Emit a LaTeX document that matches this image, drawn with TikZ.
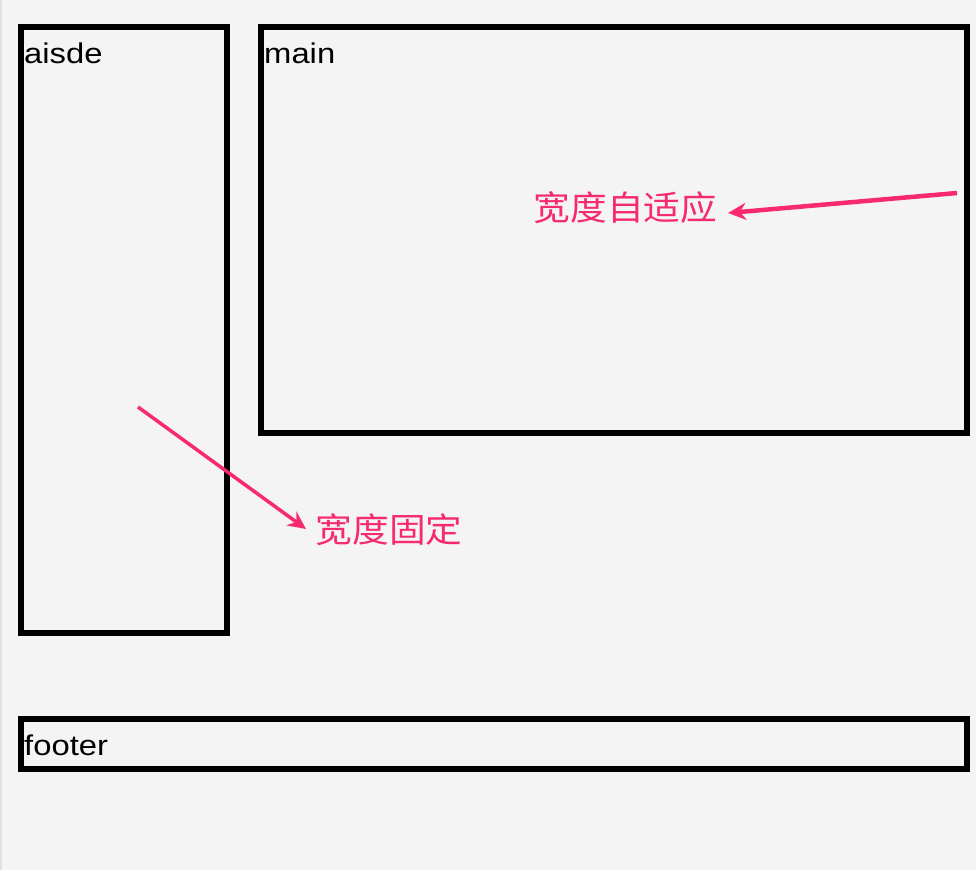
\documentclass[tikz,border=0pt]{standalone}
\usepackage{fontspec}
\setmainfont{Liberation Sans}
\newfontfamily\cjk{Noto Sans CJK SC}
\usetikzlibrary{arrows.meta}
\definecolor{bgc}{HTML}{F4F4F4}
\definecolor{edgec}{HTML}{E0E0E0}
\definecolor{pinkc}{RGB}{246,42,108}
\tikzset{
  box/.style={draw=black, line width=6pt, inner sep=0pt, outer sep=0pt, anchor=north west},
  lbl/.style={inner sep=0pt, anchor=base west, font=\fontsize{28.5}{30}\selectfont},
  note/.style={inner sep=0pt, text=pinkc, font=\cjk\fontsize{34}{36}\selectfont},
  pointer/.style={draw=pinkc, line width=4.5pt, -{Stealth[length=18pt,width=17pt,inset=6pt]}}
}
\newcommand{\wide}[1]{\scalebox{1.15}[1]{#1}}
\newcommand{\cwide}[1]{\scalebox{1.08}[1]{#1}}
\begin{document}
\begin{tikzpicture}[x=1pt,y=-1pt]
  \fill[bgc] (0,0) rectangle (976,870);
  \useasboundingbox (0,0) rectangle (976,870);
  \fill[edgec] (0,0) rectangle (2,870);
  % boxes
  \node[box, minimum width=206pt, minimum height=605.5pt] (aside) at (21,27) {};
  \node[box, minimum width=706pt, minimum height=406pt] (main) at (261,27) {};
  \node[box, minimum width=946pt, minimum height=50pt] (footer) at (21,719) {};
  % labels
  \node[lbl] (asidelbl) at (24,63) {\wide{aisde}};
  \node[lbl] (mainlbl) at (264,63) {\wide{main}};
  \node[lbl] (footerlbl) at (24,755) {\wide{footer}};
  % notes
  \node[note] (adapt) at (625.5,207.5) {\cwide{宽度自适应}};
  \node[note] (fixed) at (389,530) {\cwide{宽度固定}};
  % arrows
  \coordinate (s1) at (957,193);
  \coordinate (t1) at (728,213);
  \coordinate (s2) at (138,407);
  \coordinate (t2) at (306,529);
  \draw[pointer] (s1) -- (t1);
  \draw[pointer, line width=3.5pt] (s2) -- (t2);
\end{tikzpicture}
\end{document}
